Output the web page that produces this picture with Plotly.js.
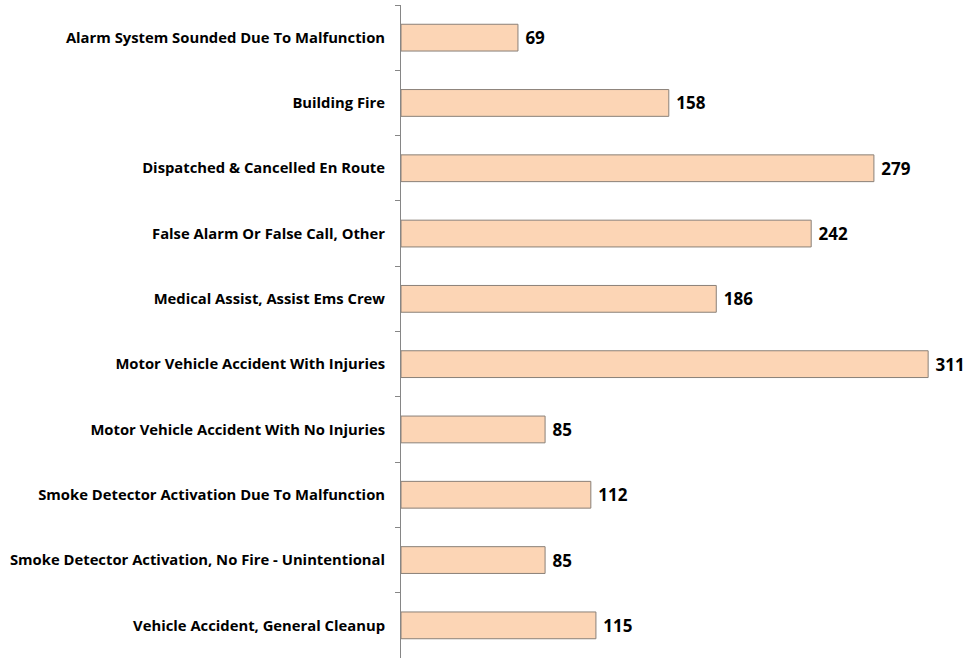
<!DOCTYPE html>
<html>
<head>
<meta charset="utf-8">
<script src="https://cdn.plot.ly/plotly-3.0.1.min.js"></script>
<style>html,body{margin:0;padding:0;background:#fff;}#chart{width:969px;height:658px;}</style>
</head>
<body>
<div id="chart"></div>
<script>
const categories = [
  "Alarm System Sounded Due To Malfunction",
  "Building Fire",
  "Dispatched & Cancelled En Route",
  "False Alarm Or False Call, Other",
  "Medical Assist, Assist Ems Crew",
  "Motor Vehicle Accident With Injuries",
  "Motor Vehicle Accident With No Injuries",
  "Smoke Detector Activation Due To Malfunction",
  "Smoke Detector Activation, No Fire - Unintentional",
  "Vehicle Accident, General Cleanup"
];
const counts = [69, 158, 279, 242, 186, 311, 85, 112, 85, 115];

const trace = {
  type: 'bar',
  orientation: 'h',
  y: categories,
  x: counts,
  text: counts.map(v => String(v)),
  texttemplate: ' %{text}',
  textposition: 'outside',
  cliponaxis: false,
  textfont: {family: 'Open Sans, sans-serif', size: 17, color: '#000', weight: 'bold'},
  marker: {color: '#FCD5B5', line: {color: '#8a8078', width: 1}},
  hoverinfo: 'none'
};

const layout = {
  width: 969, height: 658,
  margin: {l: 401, r: 20, t: 5, b: 0},
  paper_bgcolor: '#fff', plot_bgcolor: '#fff',
  showlegend: false,
  bargap: 0.59,
  font: {family: 'Open Sans, sans-serif', color: '#000'},
  xaxis: {range: [0, 323.3], visible: false, showgrid: false, zeroline: false},
  yaxis: {
    type: 'category',
    autorange: 'reversed',
    showline: true, linecolor: '#868686', linewidth: 1,
    ticks: 'outside', tickson: 'boundaries', ticklen: 5, tickcolor: '#868686',
    ticklabelstandoff: 12,
    showgrid: false, zeroline: false,
    tickfont: {family: 'Open Sans, sans-serif', size: 14.8, color: '#000', weight: 'bold'}
  }
};

Plotly.newPlot('chart', [trace], layout, {displayModeBar: false, staticPlot: true});
</script>
</body>
</html>
